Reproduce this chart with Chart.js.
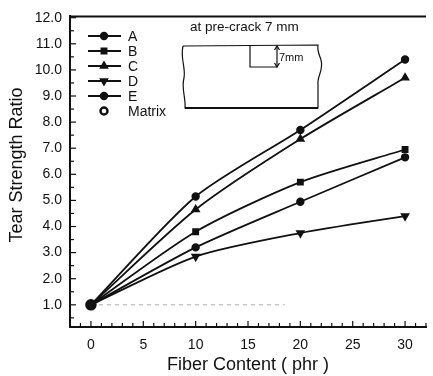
<!DOCTYPE html>
<html>
<head>
<meta charset="utf-8">
<script src="https://cdn.jsdelivr.net/npm/chart.js@4/dist/chart.umd.min.js"></script>
<style>
  html, body { margin: 0; padding: 0; background: #fff; }
  #wrap { width: 433px; height: 376px; }
</style>
</head>
<body>
<div id="wrap"><canvas id="myChart" width="433" height="376"></canvas></div>
<script>
// fiber content (phr) along the x-axis
var fiber = [0, 10, 20, 30];
// tear strength ratio for each series
var serA = [1.0, 5.15, 7.7, 10.4];
var serB = [1.0, 3.8, 5.7, 6.95];
var serC = [1.0, 4.65, 7.35, 9.7];
var serD = [1.0, 2.85, 3.75, 4.4];
var serE = [1.0, 3.2, 4.95, 6.65];
// matrix reference
var matrixX = [0];
var matrixY = [1.0];
var matrixLineX = [0, 18.5];
var matrixLineY = [1.0, 1.0];
// tick labels
var xTicks = [0, 5, 10, 15, 20, 25, 30];
var yTicks = [1, 2, 3, 4, 5, 6, 7, 8, 9, 10, 11, 12];

var FONT = '"Liberation Sans", Arial, sans-serif';

function pts(xs, ys) {
  return xs.map(function (x, i) { return { x: x, y: ys[i] }; });
}

function series(label, ys, style) {
  return {
    label: label,
    data: pts(fiber, ys),
    borderColor: '#111',
    backgroundColor: '#111',
    borderWidth: 1.8,
    pointStyle: style.shape,
    pointRadius: style.r,
    pointRotation: style.rot || 0,
    fill: false,
    tension: 0.25
  };
}

var shapes = {
  A: { shape: 'circle', r: 3.3 },
  B: { shape: 'rect', r: 3.6 },
  C: { shape: 'triangle', r: 3.8 },
  D: { shape: 'triangle', r: 3.8, rot: 180 },
  E: { shape: 'circle', r: 3.3 }
};

// inward ticks, top frame, legend, y title and the inset sketch
var decor = {
  id: 'decor',
  afterDraw: function (chart) {
    var c = chart.ctx, a = chart.chartArea;
    var xs = chart.scales.x, ys = chart.scales.y;
    c.save();
    c.strokeStyle = '#111';
    c.lineWidth = 2;
    // top frame
    c.beginPath();
    c.moveTo(a.left, a.top);
    c.lineTo(a.right, a.top);
    c.stroke();
    // x ticks
    c.lineWidth = 1.2;
    for (var v = -1; v <= 32; v++) {
      var px = xs.getPixelForValue(v);
      var len = (v % 5 === 0) ? 6 : 4;
      c.beginPath();
      c.moveTo(px, a.bottom);
      c.lineTo(px, a.bottom - len);
      c.stroke();
    }
    // y ticks
    for (var w = 0.5; w <= 12; w += 0.5) {
      var py = ys.getPixelForValue(w);
      var l2 = (w % 1 === 0) ? 6 : 4;
      c.beginPath();
      c.moveTo(a.left, py);
      c.lineTo(a.left + l2, py);
      c.stroke();
    }

    // y title
    c.fillStyle = '#111';
    c.save();
    c.translate(17, 165);
    c.rotate(-Math.PI / 2);
    c.font = '18px ' + FONT;
    c.textAlign = 'center';
    c.textBaseline = 'middle';
    c.fillText('Tear Strength Ratio', 0, 0);
    c.restore();

    // legend
    var labels = ['A', 'B', 'C', 'D', 'E'];
    var rows = [36, 51, 66, 81, 96];
    c.font = '14px ' + FONT;
    c.textBaseline = 'middle';
    labels.forEach(function (lb, i) {
      var y = rows[i];
      c.lineWidth = 1.8;
      c.beginPath();
      c.moveTo(88, y);
      c.lineTo(121, y);
      c.stroke();
      var st = shapes[lb];
      Chart.helpers.drawPoint(c, { pointStyle: st.shape, radius: st.r, rotation: st.rot || 0, borderWidth: 1 }, 104, y);
      c.fill();
      c.fillText(lb, 128, y + 1);
    });
    c.lineWidth = 2.5;
    c.beginPath();
    c.arc(104, 111, 3.5, 0, Math.PI * 2);
    c.stroke();
    c.fillText('Matrix', 128, 112);

    // inset sketch
    c.font = '13.5px ' + FONT;
    c.fillText('at pre-crack 7 mm', 190, 27);
    c.lineWidth = 1.2;
    c.beginPath();
    c.moveTo(183, 46);
    c.lineTo(318, 45);
    c.bezierCurveTo(317, 52, 320, 56, 321, 60);
    c.bezierCurveTo(324, 70, 317, 76, 318, 84);
    c.lineTo(318, 108);
    c.lineTo(185, 108);
    c.bezierCurveTo(186, 98, 181, 88, 184, 78);
    c.bezierCurveTo(186, 68, 180, 58, 183, 46);
    c.stroke();
    c.lineWidth = 1.8;
    c.beginPath();
    c.moveTo(185, 108);
    c.lineTo(318, 108);
    c.stroke();
    // notch
    c.lineWidth = 1.2;
    c.beginPath();
    c.moveTo(250, 45);
    c.lineTo(250, 67);
    c.lineTo(277, 67);
    c.stroke();
    c.beginPath();
    c.moveTo(277, 47);
    c.lineTo(277, 66);
    c.stroke();
    c.beginPath();
    c.moveTo(274.5, 50); c.lineTo(277, 46); c.lineTo(279.5, 50);
    c.moveTo(274.5, 63); c.lineTo(277, 67); c.lineTo(279.5, 63);
    c.stroke();
    c.font = '11px ' + FONT;
    c.fillText('7mm', 279, 58);
    c.restore();
  }
};

var ctx = document.getElementById('myChart');
var myChart = new Chart(ctx, {
  type: 'line',
  data: {
    datasets: [
      series('A', serA, shapes.A),
      series('B', serB, shapes.B),
      series('C', serC, shapes.C),
      series('D', serD, shapes.D),
      series('E', serE, shapes.E),
      {
        label: 'Matrix line',
        data: pts(matrixLineX, matrixLineY),
        borderColor: '#aaa',
        borderWidth: 1,
        borderDash: [4, 4],
        pointRadius: 0,
        fill: false
      },
      {
        label: 'Matrix',
        data: pts(matrixX, matrixY),
        showLine: false,
        pointStyle: 'circle',
        pointRadius: 4.5,
        pointBorderWidth: 2.5,
        pointBorderColor: '#111',
        pointBackgroundColor: '#fff'
      }
    ]
  },
  options: {
    responsive: false,
    animation: false,
    layout: { padding: { top: 12, right: 0, left: 0, bottom: 0 } },
    plugins: {
      legend: { display: false },
      tooltip: { enabled: false }
    },
    scales: {
      x: {
        type: 'linear',
        min: -2,
        max: 32,
        afterBuildTicks: function (s) { s.ticks = xTicks.map(function (v) { return { value: v }; }); },
        afterFit: function (s) { s.height = 49; },
        grid: { display: false, drawTicks: false },
        border: { display: true, color: '#111', width: 2 },
        ticks: {
          color: '#111',
          font: { family: FONT, size: 14 },
          padding: 10,
          maxRotation: 0
        },
        title: {
          display: true,
          text: 'Fiber Content ( phr )',
          color: '#111',
          font: { family: FONT, size: 18 },
          padding: { top: 1, bottom: 0 }
        }
      },
      y: {
        min: 0.15,
        max: 12.05,
        afterBuildTicks: function (s) { s.ticks = yTicks.map(function (v) { return { value: v }; }); },
        afterFit: function (s) { s.width = 70; },
        grid: { display: false, drawTicks: false },
        border: { display: true, color: '#111', width: 2 },
        ticks: {
          color: '#111',
          font: { family: FONT, size: 14 },
          padding: 8,
          callback: function (v) { return Number(v).toFixed(1); }
        },
        title: { display: false }
      }
    }
  },
  plugins: [decor]
});
</script>
</body>
</html>
